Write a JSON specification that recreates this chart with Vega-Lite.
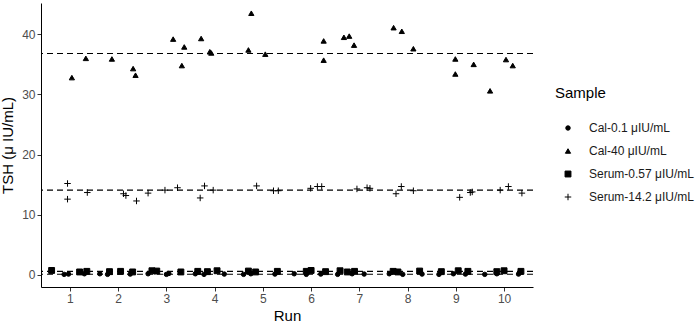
{
  "$schema": "https://vega.github.io/schema/vega-lite/v6.json",
  "width": 492,
  "height": 284,
  "autosize": {"type": "none"},
  "padding": {"left": 41, "top": 3, "right": 166, "bottom": 37},
  "background": "white",
  "config": {
    "font": "Liberation Sans",
    "view": {"stroke": null},
    "axis": {
      "grid": false,
      "domainColor": "black",
      "domainWidth": 1,
      "tickColor": "#333333",
      "tickSize": 4,
      "labelColor": "#4d4d4d",
      "labelFontSize": 12,
      "labelPadding": 2,
      "titleFontSize": 15,
      "titleFontWeight": "normal",
      "titleColor": "black"
    },
    "legend": {
      "titleFontSize": 15,
      "titleFontWeight": "normal",
      "titleColor": "black",
      "labelFontSize": 12,
      "labelColor": "#1a1a1a",
      "labelLimit": 200,
      "rowPadding": 11,
      "titlePadding": 21,
      "symbolOffset": 7,
      "labelOffset": 15
    }
  },
  "datasets": {
    "ref": [
      {"level": 36.8},
      {"level": 14.1},
      {"level": 0.6},
      {"level": 0.12}
    ],
    "pts": [
      {"Sample": "Cal-40 μIU/mL", "RunJ": 1.04, "TSH": 32.8},
      {"Sample": "Cal-40 μIU/mL", "RunJ": 1.33, "TSH": 36.0},
      {"Sample": "Cal-40 μIU/mL", "RunJ": 1.87, "TSH": 35.9},
      {"Sample": "Cal-40 μIU/mL", "RunJ": 2.31, "TSH": 34.3},
      {"Sample": "Cal-40 μIU/mL", "RunJ": 2.36, "TSH": 33.2},
      {"Sample": "Cal-40 μIU/mL", "RunJ": 3.14, "TSH": 39.2},
      {"Sample": "Cal-40 μIU/mL", "RunJ": 3.37, "TSH": 37.9},
      {"Sample": "Cal-40 μIU/mL", "RunJ": 3.32, "TSH": 34.8},
      {"Sample": "Cal-40 μIU/mL", "RunJ": 3.72, "TSH": 39.3},
      {"Sample": "Cal-40 μIU/mL", "RunJ": 3.9, "TSH": 37.1},
      {"Sample": "Cal-40 μIU/mL", "RunJ": 3.93, "TSH": 36.9},
      {"Sample": "Cal-40 μIU/mL", "RunJ": 4.76, "TSH": 43.5},
      {"Sample": "Cal-40 μIU/mL", "RunJ": 4.7, "TSH": 37.4},
      {"Sample": "Cal-40 μIU/mL", "RunJ": 5.05, "TSH": 36.7},
      {"Sample": "Cal-40 μIU/mL", "RunJ": 6.26, "TSH": 38.9},
      {"Sample": "Cal-40 μIU/mL", "RunJ": 6.26, "TSH": 35.7},
      {"Sample": "Cal-40 μIU/mL", "RunJ": 6.68, "TSH": 39.5},
      {"Sample": "Cal-40 μIU/mL", "RunJ": 6.79, "TSH": 39.7},
      {"Sample": "Cal-40 μIU/mL", "RunJ": 6.89, "TSH": 38.2},
      {"Sample": "Cal-40 μIU/mL", "RunJ": 7.71, "TSH": 41.1},
      {"Sample": "Cal-40 μIU/mL", "RunJ": 7.88, "TSH": 40.5},
      {"Sample": "Cal-40 μIU/mL", "RunJ": 8.12, "TSH": 37.6},
      {"Sample": "Cal-40 μIU/mL", "RunJ": 8.99, "TSH": 35.9},
      {"Sample": "Cal-40 μIU/mL", "RunJ": 8.99, "TSH": 33.4},
      {"Sample": "Cal-40 μIU/mL", "RunJ": 9.37, "TSH": 35.0},
      {"Sample": "Cal-40 μIU/mL", "RunJ": 9.71, "TSH": 30.6},
      {"Sample": "Cal-40 μIU/mL", "RunJ": 10.04, "TSH": 35.8},
      {"Sample": "Cal-40 μIU/mL", "RunJ": 10.18, "TSH": 34.8},
      {"Sample": "Serum-14.2 μIU/mL", "RunJ": 0.95, "TSH": 15.2},
      {"Sample": "Serum-14.2 μIU/mL", "RunJ": 0.95, "TSH": 12.6},
      {"Sample": "Serum-14.2 μIU/mL", "RunJ": 1.36, "TSH": 13.7},
      {"Sample": "Serum-14.2 μIU/mL", "RunJ": 2.11, "TSH": 13.5},
      {"Sample": "Serum-14.2 μIU/mL", "RunJ": 2.16, "TSH": 13.2},
      {"Sample": "Serum-14.2 μIU/mL", "RunJ": 2.38, "TSH": 12.3},
      {"Sample": "Serum-14.2 μIU/mL", "RunJ": 2.62, "TSH": 13.6},
      {"Sample": "Serum-14.2 μIU/mL", "RunJ": 2.97, "TSH": 14.1},
      {"Sample": "Serum-14.2 μIU/mL", "RunJ": 3.23, "TSH": 14.5},
      {"Sample": "Serum-14.2 μIU/mL", "RunJ": 3.7, "TSH": 12.8},
      {"Sample": "Serum-14.2 μIU/mL", "RunJ": 3.79, "TSH": 14.8},
      {"Sample": "Serum-14.2 μIU/mL", "RunJ": 3.97, "TSH": 14.1},
      {"Sample": "Serum-14.2 μIU/mL", "RunJ": 4.87, "TSH": 14.8},
      {"Sample": "Serum-14.2 μIU/mL", "RunJ": 5.22, "TSH": 14.0},
      {"Sample": "Serum-14.2 μIU/mL", "RunJ": 5.32, "TSH": 14.0},
      {"Sample": "Serum-14.2 μIU/mL", "RunJ": 5.99, "TSH": 14.4},
      {"Sample": "Serum-14.2 μIU/mL", "RunJ": 6.13, "TSH": 14.7},
      {"Sample": "Serum-14.2 μIU/mL", "RunJ": 6.22, "TSH": 14.7},
      {"Sample": "Serum-14.2 μIU/mL", "RunJ": 6.95, "TSH": 14.3},
      {"Sample": "Serum-14.2 μIU/mL", "RunJ": 7.16, "TSH": 14.5},
      {"Sample": "Serum-14.2 μIU/mL", "RunJ": 7.22, "TSH": 14.4},
      {"Sample": "Serum-14.2 μIU/mL", "RunJ": 7.76, "TSH": 13.5},
      {"Sample": "Serum-14.2 μIU/mL", "RunJ": 7.87, "TSH": 14.7},
      {"Sample": "Serum-14.2 μIU/mL", "RunJ": 8.12, "TSH": 14.0},
      {"Sample": "Serum-14.2 μIU/mL", "RunJ": 9.08, "TSH": 12.9},
      {"Sample": "Serum-14.2 μIU/mL", "RunJ": 9.3, "TSH": 13.7},
      {"Sample": "Serum-14.2 μIU/mL", "RunJ": 9.34, "TSH": 13.8},
      {"Sample": "Serum-14.2 μIU/mL", "RunJ": 9.92, "TSH": 14.1},
      {"Sample": "Serum-14.2 μIU/mL", "RunJ": 10.09, "TSH": 14.7},
      {"Sample": "Serum-14.2 μIU/mL", "RunJ": 10.37, "TSH": 13.6},
      {"Sample": "Cal-0.1 μIU/mL", "RunJ": 0.88, "TSH": 0.1},
      {"Sample": "Cal-0.1 μIU/mL", "RunJ": 0.97, "TSH": 0.15},
      {"Sample": "Cal-0.1 μIU/mL", "RunJ": 1.3, "TSH": 0.2},
      {"Sample": "Cal-0.1 μIU/mL", "RunJ": 1.62, "TSH": 0.2},
      {"Sample": "Cal-0.1 μIU/mL", "RunJ": 1.78, "TSH": 0.1},
      {"Sample": "Cal-0.1 μIU/mL", "RunJ": 2.25, "TSH": 0.15},
      {"Sample": "Cal-0.1 μIU/mL", "RunJ": 2.62, "TSH": 0.2},
      {"Sample": "Cal-0.1 μIU/mL", "RunJ": 3.0, "TSH": 0.1},
      {"Sample": "Cal-0.1 μIU/mL", "RunJ": 3.05, "TSH": 0.25},
      {"Sample": "Cal-0.1 μIU/mL", "RunJ": 3.6, "TSH": 0.2},
      {"Sample": "Cal-0.1 μIU/mL", "RunJ": 3.78, "TSH": 0.1},
      {"Sample": "Cal-0.1 μIU/mL", "RunJ": 4.2, "TSH": 0.15},
      {"Sample": "Cal-0.1 μIU/mL", "RunJ": 4.6, "TSH": 0.1},
      {"Sample": "Cal-0.1 μIU/mL", "RunJ": 4.75, "TSH": 0.2},
      {"Sample": "Cal-0.1 μIU/mL", "RunJ": 5.25, "TSH": 0.15},
      {"Sample": "Cal-0.1 μIU/mL", "RunJ": 5.65, "TSH": 0.2},
      {"Sample": "Cal-0.1 μIU/mL", "RunJ": 5.9, "TSH": 0.1},
      {"Sample": "Cal-0.1 μIU/mL", "RunJ": 6.2, "TSH": 0.15},
      {"Sample": "Cal-0.1 μIU/mL", "RunJ": 6.55, "TSH": 0.1},
      {"Sample": "Cal-0.1 μIU/mL", "RunJ": 6.85, "TSH": 0.2},
      {"Sample": "Cal-0.1 μIU/mL", "RunJ": 7.1, "TSH": 0.15},
      {"Sample": "Cal-0.1 μIU/mL", "RunJ": 7.62, "TSH": 0.2},
      {"Sample": "Cal-0.1 μIU/mL", "RunJ": 7.9, "TSH": 0.1},
      {"Sample": "Cal-0.1 μIU/mL", "RunJ": 8.3, "TSH": 0.15},
      {"Sample": "Cal-0.1 μIU/mL", "RunJ": 8.65, "TSH": 0.1},
      {"Sample": "Cal-0.1 μIU/mL", "RunJ": 8.95, "TSH": 0.2},
      {"Sample": "Cal-0.1 μIU/mL", "RunJ": 9.2, "TSH": 0.15},
      {"Sample": "Cal-0.1 μIU/mL", "RunJ": 9.6, "TSH": 0.1},
      {"Sample": "Cal-0.1 μIU/mL", "RunJ": 9.85, "TSH": 0.2},
      {"Sample": "Cal-0.1 μIU/mL", "RunJ": 10.3, "TSH": 0.15},
      {"Sample": "Serum-0.57 μIU/mL", "RunJ": 0.62, "TSH": 0.75},
      {"Sample": "Serum-0.57 μIU/mL", "RunJ": 1.2, "TSH": 0.5},
      {"Sample": "Serum-0.57 μIU/mL", "RunJ": 1.35, "TSH": 0.6},
      {"Sample": "Serum-0.57 μIU/mL", "RunJ": 1.82, "TSH": 0.55},
      {"Sample": "Serum-0.57 μIU/mL", "RunJ": 2.05, "TSH": 0.6},
      {"Sample": "Serum-0.57 μIU/mL", "RunJ": 2.3, "TSH": 0.5},
      {"Sample": "Serum-0.57 μIU/mL", "RunJ": 2.7, "TSH": 0.7},
      {"Sample": "Serum-0.57 μIU/mL", "RunJ": 2.8, "TSH": 0.65},
      {"Sample": "Serum-0.57 μIU/mL", "RunJ": 3.3, "TSH": 0.5},
      {"Sample": "Serum-0.57 μIU/mL", "RunJ": 3.65, "TSH": 0.6},
      {"Sample": "Serum-0.57 μIU/mL", "RunJ": 3.85, "TSH": 0.55},
      {"Sample": "Serum-0.57 μIU/mL", "RunJ": 4.05, "TSH": 0.7},
      {"Sample": "Serum-0.57 μIU/mL", "RunJ": 4.7, "TSH": 0.65},
      {"Sample": "Serum-0.57 μIU/mL", "RunJ": 4.85, "TSH": 0.5},
      {"Sample": "Serum-0.57 μIU/mL", "RunJ": 5.3, "TSH": 0.6},
      {"Sample": "Serum-0.57 μIU/mL", "RunJ": 5.9, "TSH": 0.6},
      {"Sample": "Serum-0.57 μIU/mL", "RunJ": 6.0, "TSH": 0.75},
      {"Sample": "Serum-0.57 μIU/mL", "RunJ": 6.3, "TSH": 0.55},
      {"Sample": "Serum-0.57 μIU/mL", "RunJ": 6.6, "TSH": 0.7},
      {"Sample": "Serum-0.57 μIU/mL", "RunJ": 6.75, "TSH": 0.5},
      {"Sample": "Serum-0.57 μIU/mL", "RunJ": 6.9, "TSH": 0.6},
      {"Sample": "Serum-0.57 μIU/mL", "RunJ": 7.7, "TSH": 0.6},
      {"Sample": "Serum-0.57 μIU/mL", "RunJ": 7.8, "TSH": 0.5},
      {"Sample": "Serum-0.57 μIU/mL", "RunJ": 8.25, "TSH": 0.65},
      {"Sample": "Serum-0.57 μIU/mL", "RunJ": 8.7, "TSH": 0.55},
      {"Sample": "Serum-0.57 μIU/mL", "RunJ": 9.05, "TSH": 0.7},
      {"Sample": "Serum-0.57 μIU/mL", "RunJ": 9.25, "TSH": 0.6},
      {"Sample": "Serum-0.57 μIU/mL", "RunJ": 9.85, "TSH": 0.55},
      {"Sample": "Serum-0.57 μIU/mL", "RunJ": 10.0, "TSH": 0.7},
      {"Sample": "Serum-0.57 μIU/mL", "RunJ": 10.35, "TSH": 0.6}
    ]
  },
  "layer": [
    {
      "data": {"name": "ref"},
      "mark": {"type": "rule", "strokeDash": [6, 4], "color": "black", "strokeWidth": 1.1},
      "encoding": {
        "y": {"field": "level", "type": "quantitative", "scale": {"domain": [-2, 45.2], "nice": false, "zero": false}}
      }
    },
    {
      "data": {"name": "pts"},
      "mark": {"type": "point", "filled": true, "color": "black", "stroke": "black", "strokeWidth": 1, "opacity": 1},
      "encoding": {
        "x": {
          "field": "RunJ", "type": "quantitative",
          "scale": {"domain": [0.4, 10.6], "nice": false, "zero": false},
          "axis": {"values": [1, 2, 3, 4, 5, 6, 7, 8, 9, 10], "title": "Run", "titlePadding": 4}
        },
        "y": {
          "field": "TSH", "type": "quantitative",
          "scale": {"domain": [-2, 45.2], "nice": false, "zero": false},
          "axis": {"values": [0, 10, 20, 30, 40], "title": "TSH (μ IU/mL)", "titlePadding": 6}
        },
        "shape": {
          "field": "Sample", "type": "nominal",
          "scale": {
            "domain": ["Cal-0.1 μIU/mL", "Cal-40 μIU/mL", "Serum-0.57 μIU/mL", "Serum-14.2 μIU/mL"],
            "range": ["circle", "triangle-up", "square", "M-1,0L1,0M0,-1L0,1"]
          },
          "legend": {"orient": "none", "legendX": 514, "legendY": 83, "title": "Sample", "symbolStrokeColor": "black", "symbolFillColor": "black", "symbolStrokeWidth": 1}
        },
        "size": {
          "field": "Sample", "type": "nominal",
          "scale": {
            "domain": ["Cal-0.1 μIU/mL", "Cal-40 μIU/mL", "Serum-0.57 μIU/mL", "Serum-14.2 μIU/mL"],
            "range": [20, 42, 17, 64]
          },
          "legend": {"orient": "none", "legendX": 514, "legendY": 83, "title": "Sample"}
        }
      }
    }
  ]
}
